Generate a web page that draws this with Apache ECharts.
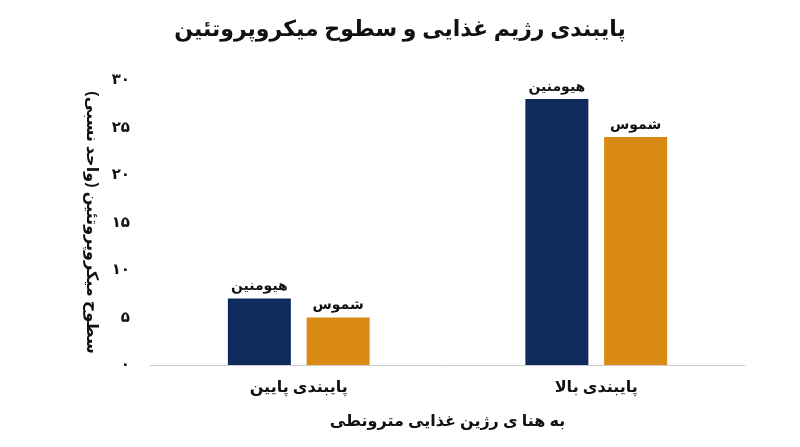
<!DOCTYPE html><html><head><meta charset="utf-8"><script src="https://cdn.jsdelivr.net/npm/echarts@6/dist/echarts.min.js"></script></head><body style="margin:0"><div id="c" style="width:800px;height:447px"></div><script>
const categories=['پایبندی پایین','پایبندی بالا'];
const seriesNames=['هیومنین','شموس'];
const humanin=[7,28];
const shmoos=[5,24];
const yTicks={0:'۰',5:'۵',10:'۱۰',15:'۱۵',20:'۲۰',25:'۲۵',30:'۳۰'};
const f='"Noto Sans", "DejaVu Sans", sans-serif';
const lbl={show:true,position:'top',color:'#111',fontWeight:'bold',fontSize:14,fontFamily:f,formatter:p=>p.seriesName};
echarts.init(document.getElementById('c')).setOption({
title:{text:'پایبندی رژیم غذایی و سطوح میکروپروتئین',left:'center',top:14,textStyle:{fontSize:22,fontWeight:'bold',color:'#111',fontFamily:f}},
grid:{left:150,right:55,top:80,bottom:82},
xAxis:{type:'category',data:categories,axisTick:{show:false},axisLine:{lineStyle:{color:'#ccc'}},axisLabel:{fontSize:16,fontWeight:'bold',color:'#111',margin:14,fontFamily:f},
name:'به هنا ی رژین غذایی مترونطی',nameLocation:'middle',nameGap:48,nameTextStyle:{fontSize:16,fontWeight:'bold',color:'#111',fontFamily:f}},
yAxis:{type:'value',min:0,max:30,interval:5,splitLine:{show:false},axisLine:{show:false},axisTick:{show:false},axisLabel:{formatter:v=>yTicks[v],fontSize:15,fontWeight:'bold',color:'#111',margin:20,fontFamily:f},
name:'سطوح میکروپروتئین (واحد نسبی)',nameLocation:'middle',nameRotate:-90,nameGap:50,nameTextStyle:{fontSize:16,fontWeight:'bold',color:'#111',fontFamily:f}},
series:[{name:seriesNames[0],type:'bar',data:humanin,barWidth:63,barGap:'25%',itemStyle:{color:'#0f2a5c'},label:lbl},
{name:seriesNames[1],type:'bar',data:shmoos,barWidth:63,itemStyle:{color:'#d98a12'},label:lbl}]
});
</script></body></html>
